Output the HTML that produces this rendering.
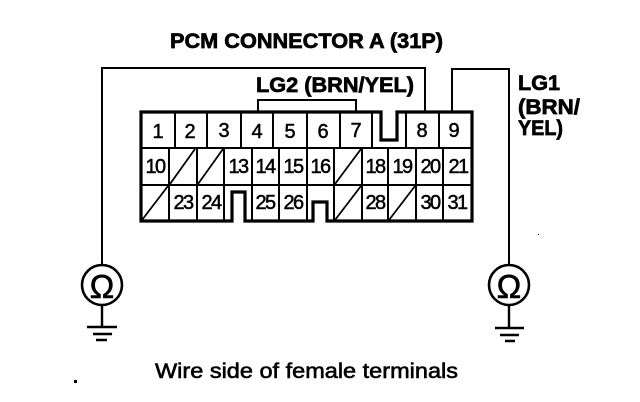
<!DOCTYPE html>
<html>
<head>
<meta charset="utf-8">
<style>
html,body{margin:0;padding:0;background:#fff;width:640px;height:402px;overflow:hidden}
svg{display:block}
text{font-family:"Liberation Sans",sans-serif;fill:#000}
.n{font-size:20px;text-anchor:middle;stroke:#000;stroke-width:.5}
.d{letter-spacing:-1.6px}
.b{font-weight:bold;stroke:#000;stroke-width:.7}
</style>
</head>
<body>
<svg width="640" height="402" viewBox="0 0 640 402" xmlns="http://www.w3.org/2000/svg">
<g fill="none" stroke="#000">
<!-- wires -->
<path stroke-width="2" d="M102 265V68H425V112M452 112V69H509V265M258 112V100H356V112"/>
<path stroke-width="2.400" d="M102 305V327M509 305V328"/>
<!-- connector outline -->
<path stroke-width="3.200" stroke-linejoin="miter" d="M141 112H381V140H397V112H472V221H327V202H313V221H245V192H232V221H141Z"/>
<path stroke-width="2" d="M141 148H472M141 185H472"/>
<!-- row 1 -->
<path stroke-width="2" d="M175 112V148M207 112V148M241 112V148M273 112V148M307 112V148M340 112V148M372 112V148M406 112V148M439 112V148"/>
<!-- row 2 -->
<path stroke-width="2" d="M169 148V185M197 148V185M224 148V185M252 148V185M279 148V185M307 148V185M334 148V185M362 148V185M388 148V185M416 148V185M443 148V185"/>
<!-- row 3 -->
<path stroke-width="2" d="M169 185V221M197 185V221M224 185V221M252 185V221M279 185V221M307 185V221M334 185V221M362 185V221M388 185V221M416 185V221M443 185V221"/>
<!-- blanked cells -->
<path stroke-width="1.800" d="M170 184L195 149M198 184L223 149M335 184L361 149M142 220L168 186M335 220L361 186M389 220L415 186"/>
<!-- meters -->
<circle cx="102" cy="285" r="20" stroke-width="2.600" fill="#fff"/>
<circle cx="509" cy="285" r="20" stroke-width="2.600" fill="#fff"/>
<!-- grounds -->
<path stroke-width="2.400" d="M87 327H117M93 334H112M96 340H107M495 328H524M500 335H519M505 341H515"/>
</g>
<!-- titles -->
<text x="170" y="48" font-size="21" class="b" textLength="273" lengthAdjust="spacingAndGlyphs">PCM CONNECTOR A (31P)</text>
<text x="256" y="92" font-size="21" class="b" textLength="158" lengthAdjust="spacingAndGlyphs">LG2 (BRN/YEL)</text>
<text x="518" y="90" font-size="21" class="b" textLength="42" lengthAdjust="spacingAndGlyphs">LG1</text>
<text x="518" y="114" font-size="21" class="b" textLength="62" lengthAdjust="spacingAndGlyphs">(BRN/</text>
<text x="518" y="135" font-size="21" class="b" textLength="45" lengthAdjust="spacingAndGlyphs">YEL)</text>
<text x="155" y="378" font-size="21" stroke="#000" stroke-width=".6" textLength="303" lengthAdjust="spacingAndGlyphs">Wire side of female terminals</text>
<!-- omega -->
<text x="102" y="298" font-size="33" text-anchor="middle" stroke="#000" stroke-width=".6">Ω</text>
<text x="509" y="298" font-size="33" text-anchor="middle" stroke="#000" stroke-width=".6">Ω</text>
<!-- row 1 labels -->
<text class="n" x="158" y="138">1</text>
<text class="n" x="190" y="138">2</text>
<text class="n" x="224" y="137">3</text>
<text class="n" x="257" y="138">4</text>
<text class="n" x="290" y="138">5</text>
<text class="n" x="323" y="138">6</text>
<text class="n" x="356" y="137">7</text>
<text class="n" x="422" y="137">8</text>
<text class="n" x="454" y="137">9</text>
<!-- row 2 labels -->
<text class="n d" x="155" y="173">10</text>
<text class="n d" x="238" y="173">13</text>
<text class="n d" x="265" y="173">14</text>
<text class="n d" x="293" y="173">15</text>
<text class="n d" x="320" y="173">16</text>
<text class="n d" x="375" y="173">18</text>
<text class="n d" x="402" y="173">19</text>
<text class="n d" x="430" y="173">20</text>
<text class="n d" x="458" y="173">21</text>
<!-- row 3 labels -->
<text class="n d" x="183" y="209">23</text>
<text class="n d" x="211" y="209">24</text>
<text class="n d" x="265" y="209">25</text>
<text class="n d" x="293" y="209">26</text>
<text class="n d" x="375" y="209">28</text>
<text class="n d" x="430" y="209">30</text>
<text class="n d" x="457" y="209">31</text>
<!-- specks -->
<rect x="74" y="380" width="3" height="3" fill="#000"/>
<rect x="538" y="234" width="1" height="1" fill="#000"/>
</svg>
</body>
</html>
